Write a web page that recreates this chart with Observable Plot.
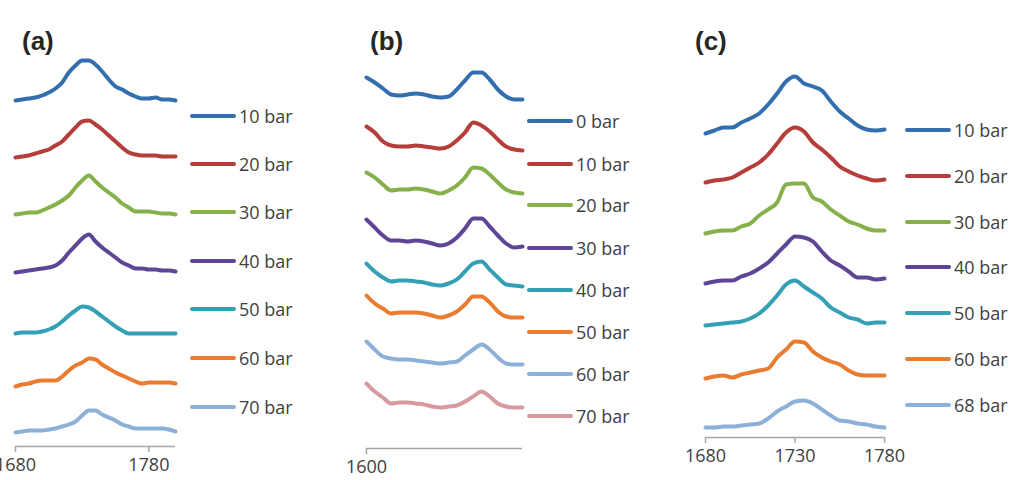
<!DOCTYPE html>
<html>
<head>
<meta charset="utf-8">
<script src="https://cdn.jsdelivr.net/npm/d3@7"></script>
<script src="https://cdn.jsdelivr.net/npm/@observablehq/plot@0.6"></script>
<style>
  html, body { margin: 0; padding: 0; background: #fff; }
  #root { position: relative; width: 1017px; height: 480px; overflow: hidden; background: #fff; }
  .title { position: absolute; font-family: "Liberation Sans", Arial, sans-serif; font-weight: bold; font-size: 26px; line-height: 26px; color: #262626; }
  .leg { position: absolute; display: flex; align-items: center; height: 20px; font-family: "Open Sans", sans-serif; font-size: 18px; line-height: 20px; color: #404040; white-space: nowrap; }
  .leg svg { display: block; margin-right: 3px; }
</style>
</head>
<body>
<div id="root"></div>
<script>
// ---------- Panel (a) ----------
const wnA = [1680,1685,1690,1695,1700,1705,1710,1715,1720,1725,1730,1735,1740,1745,1750,1755,1760,1765,1770,1775,1780,1785,1790,1795,1800];
const labelsA = ["10 bar","20 bar","30 bar","40 bar","50 bar","60 bar","70 bar"];
const a10 = [346,347,348,349,351,354,358,364,374,381,386,386,382,375,367,360,357,353,350,348,348,349,347,347,346];
const a20 = [289,290,291,293,295,297,301,305,312,319,325,326,322,317,311,305,299,294,292,291,291,291,290,290,290];
const a30 = [232,233,234,234,236,239,242,246,251,259,266,271,265,259,254,249,243,239,235,235,235,234,233,233,232];
const a40 = [174,175,176,177,178,179,181,186,194,201,208,212,205,199,194,189,184,181,178,178,177,177,176,176,175];
const a50 = [113,114,114,114,115,117,120,125,131,136,140,139,135,130,125,120,116,113,113,113,113,113,113,113,113];
const a60 = [60,62,63,65,66,66,66,70,76,81,84,88,87,82,78,74,71,68,65,63,64,64,64,64,63];
const a70 = [14,15,16,16,16,17,18,20,22,25,31,36,36,32,29,26,22,20,18,18,18,18,18,17,15];
const ticksA = [1680, 1780];

// ---------- Panel (b) ----------
const wnB = [1600,1610,1620,1630,1640,1650,1660,1670,1680,1690,1700,1710,1720,1730,1740,1750,1760,1770,1780,1790];
const labelsB = ["0 bar","10 bar","20 bar","30 bar","40 bar","50 bar","60 bar","70 bar"];
const b0  = [371,366,360,354,353,354,355,354,352,351,352,359,368,376,376,369,359,352,349,349];
const b10 = [322,316,307,303,302,302,303,302,301,300,302,308,316,326,323,317,309,302,299,298];
const b20 = [276,271,264,258,259,259,260,259,257,255,258,263,271,281,280,274,266,259,256,255];
const b30 = [229,221,213,208,208,207,208,207,205,203,205,211,220,230,230,222,213,205,201,202];
const b40 = [185,177,171,167,168,168,167,166,164,163,165,169,177,185,187,179,171,164,163,162];
const b50 = [153,145,140,135,136,136,136,135,133,131,133,137,144,152,152,146,137,132,131,131];
const b60 = [107,99,92,90,89,89,88,87,86,85,86,87,93,99,104,99,91,85,84,84];
const b70 = [65,57,51,45,46,46,45,44,42,41,42,43,47,52,57,52,45,42,41,41];
const ticksB = [1600];

// ---------- Panel (c) ----------
const wnC = [1680,1685,1690,1695,1700,1705,1710,1715,1720,1725,1730,1735,1740,1745,1750,1755,1760,1765,1770,1775,1780];
const labelsC = ["10 bar","20 bar","30 bar","40 bar","50 bar","60 bar","68 bar"];
const c10 = [304,307,310,310,315,319,324,333,344,356,361,354,351,347,336,326,319,312,308,307,308];
const c20 = [255,257,258,260,265,270,275,283,294,305,310,306,295,288,280,271,266,262,259,257,258];
const c30 = [204,206,207,207,211,214,222,228,235,253,254,254,240,236,228,222,216,213,209,207,207];
const c40 = [154,156,157,157,161,164,169,175,184,193,201,200,196,186,177,172,166,160,160,158,159];
const c50 = [112,113,114,115,116,119,124,132,142,153,157,151,145,139,130,125,120,118,114,115,115];
const c60 = [59,61,62,60,63,65,67,69,80,88,96,95,86,80,76,73,67,63,62,62,62];
const c68 = [10,10,11,11,12,13,14,19,26,31,36,37,34,28,22,17,16,14,13,11,10];
const ticksC = [1680, 1730, 1780];

// ---------- Colours ----------
const colorsA = ["#336FAE","#B53D3A","#85B04A","#5E4596","#34A0B5","#EA7C30","#8CB0D8"];
const colorsB = ["#336FAE","#B53D3A","#85B04A","#5E4596","#34A0B5","#EA7C30","#8CB0D8","#D79AA0"];
const colorsC = colorsA;

const root = document.getElementById("root");

function makeRows(wn, labels, series) {
  const rows = [];
  series.forEach((vals, i) => vals.forEach((v, j) => rows.push({wn: wn[j], v, s: labels[i]})));
  return rows;
}

function panel(cfg) {
  const rows = makeRows(cfg.wn, cfg.labels, cfg.series);
  const svg = Plot.plot({
    width: cfg.width,
    height: 480,
    marginLeft: cfg.ml,
    marginRight: cfg.mr,
    marginTop: cfg.mt,
    marginBottom: cfg.mb,
    style: {fontFamily: "'Open Sans', sans-serif", fontSize: "18px", color: "#404040", background: "transparent", overflow: "hidden"},
    x: {domain: cfg.xdomain},
    y: {domain: [0, 400], axis: null},
    color: {domain: cfg.labels, range: cfg.colors},
    marks: [
      Plot.ruleY([0], {stroke: "#a6a6a6", strokeWidth: 1.5}),
      Plot.axisX({ticks: cfg.ticks, tickSize: 6, tickPadding: 6, stroke: "#a6a6a6", strokeWidth: 1.5, fill: "#404040", tickFormat: d => String(d), label: null}),
      Plot.line(rows, {x: "wn", y: "v", z: "s", stroke: "s", strokeWidth: 4, curve: "monotone-x", strokeLinejoin: "round", strokeLinecap: "round"})
    ]
  });
  svg.style.position = "absolute";
  svg.style.left = cfg.left + "px";
  svg.style.top = "0px";
  root.appendChild(svg);

  const t = document.createElement("div");
  t.className = "title";
  t.textContent = cfg.title;
  t.style.left = cfg.titleX + "px";
  t.style.top = "28px";
  root.appendChild(t);

  cfg.labels.forEach((lab, i) => {
    const d = document.createElement("div");
    d.className = "leg";
    d.style.left = cfg.legX + "px";
    d.style.top = (cfg.legY[i] - 10) + "px";
    d.innerHTML = `<svg width="46" height="20"><line x1="2" x2="44" y1="10" y2="10" stroke="${cfg.colors[i]}" stroke-width="4" stroke-linecap="round"/></svg><span>${lab}</span>`;
    root.appendChild(d);
  });
}

panel({
  title: "(a)", titleX: 22,
  wn: wnA, labels: labelsA, series: [a10,a20,a30,a40,a50,a60,a70], colors: colorsA,
  left: 0, width: 185, ml: 15, mr: 10, mt: 46, mb: 34, xdomain: [1680, 1800], ticks: ticksA,
  legX: 190, legY: [116,164,212,261,309,358,407]
});
panel({
  title: "(b)", titleX: 370,
  wn: wnB, labels: labelsB, series: [b0,b10,b20,b30,b40,b50,b60,b70], colors: colorsB,
  left: 340, width: 192, ml: 26, mr: 10, mt: 48, mb: 32, xdomain: [1600, 1790], ticks: ticksB,
  legX: 527, legY: [121,164,205,248,290,332,374,416]
});
panel({
  title: "(c)", titleX: 695,
  wn: wnC, labels: labelsC, series: [c10,c20,c30,c40,c50,c60,c68], colors: colorsC,
  left: 680, width: 230, ml: 25, mr: 26, mt: 37, mb: 43, xdomain: [1680, 1780], ticks: ticksC,
  legX: 905, legY: [130,176,222,267,313,359,405]
});
</script>
</body>
</html>
